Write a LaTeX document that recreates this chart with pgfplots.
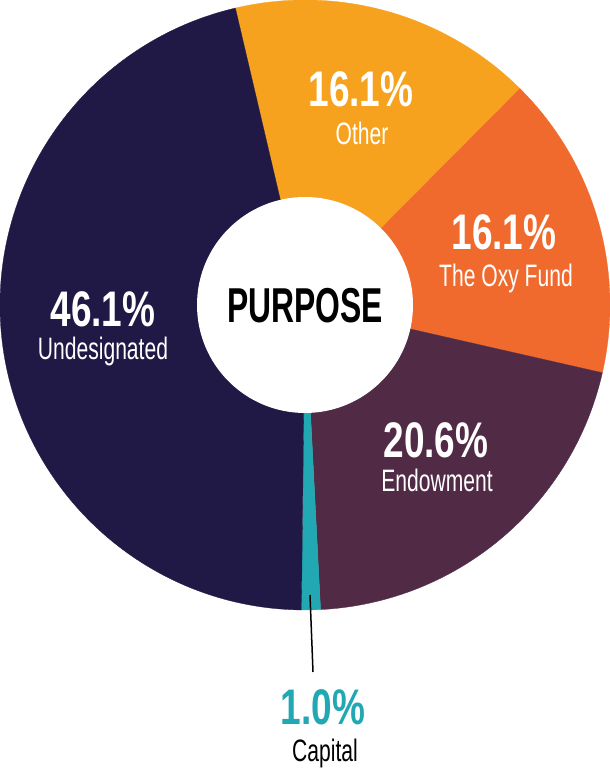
\documentclass[border=0pt]{standalone}
\usepackage{pgfplots}
\pgfplotsset{compat=1.18}
\usepackage{pgfplotstable}
\usepackage{fontspec}
\setmainfont{Liberation Sans}
\newfontfamily\pctfont[FakeStretch=0.74]{Liberation Sans}
\newfontfamily\titlefont[FakeStretch=0.65]{Liberation Sans}
\newfontfamily\labfont[FakeStretch=0.68]{Liberation Sans}

\definecolor{cOther}{HTML}{F7A21E}
\definecolor{cOxy}{HTML}{F06A2D}
\definecolor{cEndow}{HTML}{512A45}
\definecolor{cCapital}{HTML}{22A8B3}
\definecolor{cUndes}{HTML}{201845}

% slices in clockwise order, starting at the top boundary
\pgfplotstableread{
pct   col
16.1  cOther
16.1  cOxy
20.6  cEndow
1.0   cCapital
46.1  cUndes
}\piedata

\newcommand\pctlab[1]{{\pctfont\bfseries\fontsize{50}{50}\selectfont #1}}
\newcommand\namelab[1]{{\labfont\fontsize{31}{31}\selectfont #1}}

\begin{document}
\begin{tikzpicture}
\begin{axis}[
   x=1pt, y=1pt,
   xmin=0, xmax=610, ymin=0, ymax=768,
   hide axis, clip=false, scaled ticks=false
]
\coordinate (ll) at (axis cs:0,0);
\coordinate (ur) at (axis cs:610,768);

% total of the table, to close the circle
\pgfplotstablegetrowsof{\piedata}
\pgfmathtruncatemacro\nrows{\pgfplotsretval-1}
\def\total{0}
\pgfplotsforeachungrouped \i in {0,...,\nrows}{
  \pgfplotstablegetelem{\i}{pct}\of\piedata
  \pgfmathsetmacro\total{\total+\pgfplotsretval}
}

\def\start{103.2}
\pgfplotsforeachungrouped \i in {0,...,\nrows}{
  \pgfplotstablegetelem{\i}{pct}\of\piedata \let\v\pgfplotsretval
  \pgfplotstablegetelem{\i}{col}\of\piedata \let\c\pgfplotsretval
  \pgfmathsetmacro\stop{\start-\v/\total*360}
  \edef\temp{\noexpand\fill[\c, draw=\c, line width=0.3pt]
     (axis cs:305,463) -- ++(\start:305pt)
     arc[start angle=\start, end angle=\stop, radius=305pt] -- cycle;}
  \temp
  \global\let\start\stop
}

\fill[white] (axis cs:305,463) circle[radius=108pt];

\node[anchor=base] at (axis cs:305,445) {\titlefont\bfseries\fontsize{49}{49}\selectfont PURPOSE};

\node[anchor=base, white] at (axis cs:361,661) {\pctlab{16.1\%}};
\node[anchor=base, white] at (axis cs:362,623) {\namelab{Other}};
\node[anchor=base, white] at (axis cs:504,518) {\pctlab{16.1\%}};
\node[anchor=base, white] at (axis cs:506,481) {\namelab{The Oxy Fund}};
\node[anchor=base, white] at (axis cs:436,310) {\pctlab{20.6\%}};
\node[anchor=base, white] at (axis cs:437,276) {\namelab{Endowment}};
\node[anchor=base, white] at (axis cs:103,441) {\pctlab{46.1\%}};
\node[anchor=base, white] at (axis cs:103,408) {\namelab{Undesignated}};

\draw[line width=1.5pt] (axis cs:310,173) -- (axis cs:313,96);
\node[anchor=base, cCapital] at (axis cs:323,43) {\pctlab{1.0\%}};
\node[anchor=base, black] at (axis cs:325,6) {\namelab{Capital}};
\end{axis}
\pgfresetboundingbox
\path[use as bounding box] (ll) rectangle (ur);
\end{tikzpicture}
\end{document}
